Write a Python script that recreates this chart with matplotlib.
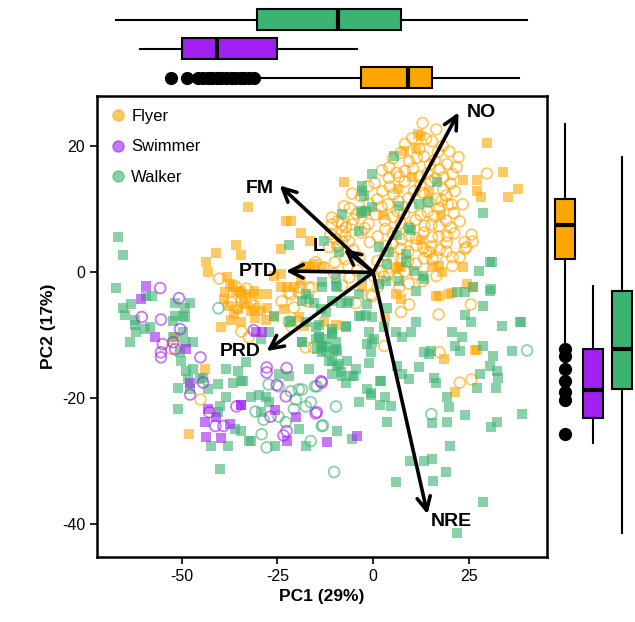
import matplotlib
matplotlib.use("Agg")
import matplotlib.pyplot as plt
from matplotlib.lines import Line2D

plt.rcParams['font.family'] = ['Liberation Sans', 'DejaVu Sans']
plt.rcParams['axes.unicode_minus'] = False

groups = ['Flyer', 'Swimmer', 'Walker']
colours = {'Flyer': '#FFA500', 'Swimmer': '#A020F0', 'Walker': '#3CB371'}

# PCA scores (squares = filled, circles = open)
flyer_sq = [
    (-32.8, 10.3), (-22.8, 8.1), (-21.5, 8.1), (-18.9, 6.3), (-16.5, 4.9), (-24.1, 3.7),
    (-40.9, 3.0), (-35.7, 4.3), (-34.6, 2.7), (-43.6, 1.6), (-43.0, 0.0), (-37.3, -1.9),
    (-38.6, -3.2), (-35.7, -3.2), (-33.1, -3.5), (-30.4, -3.5), (-37.8, -5.4), (-35.2, -5.9),
    (-32.0, -6.2), (-29.4, -6.2), (-37.0, -7.5), (-34.4, -7.9), (-39.6, -8.7), (-27.8, -3.5),
    (-26.0, -0.6), (-24.1, -0.3), (-17.6, 1.0), (-15.5, 1.3), (-23.4, -5.9), (-26.0, -7.1),
    (-28.1, -7.5), (-19.4, -7.1), (-18.1, -8.6), (-43.8, -15.4), (-51.7, -10.2), (-48.0, -25.7),
    (-18.1, 0.8), (-16.3, 0.8), (-24.1, -2.4), (-22.6, -2.4), (-20.7, -2.4), (-18.9, -1.4),
    (-36.5, -2.4), (-34.6, -3.0), (-31.2, -3.0), (-27.8, -5.6), (-31.2, -5.6),
    (-39.0, -4.3), (-36.2, -6.6), (-33.6, -5.0), (-30.8, -7.3), (-38.2, -0.8),
    (29.7, 20.6), (33.9, 15.9), (37.8, 13.3), (35.2, 11.9), (27.0, 12.9), (28.1, 11.9),
    (27.0, 14.6), (23.4, 14.6), (12.6, 21.7), (8.1, 19.2), (11.3, 19.8), (-7.6, 14.4),
    (20.7, -3.3), (23.4, 0.8), (17.3, 1.0), (15.5, 0.8), (6.8, 0.8), (-13.4, 0.8), (6.0, -3.5),
    (6.0, 0.5), (7.3, 0.8), (18.1, 0.0), (17.3, -3.8), (19.9, -3.5), (-2.9, -2.4), (7.3, -4.3),
    (16.5, -3.7), (26.0, -2.4), (24.4, -1.9), (27.0, -12.4), (21.3, -19.0), (18.4, -13.7),
    (26.5, -12.4), (-12.9, -7.9), (-9.7, -8.3), (3.1, -7.1), (11.6, 21.9),
    (10.2, 15.1), (14.6, 12.8), (6.4, 13.2), (2.5, 9.1), (12.5, 5.2), (17.8, 9.1),
]
flyer_ci = [
    (-40.2, -1.0), (-37.0, -4.8), (-34.4, -4.6), (-32.0, -4.6), (-34.4, -9.4), (-32.5, -10.3),
    (-23.9, -4.6), (-22.0, -3.2), (-19.4, -3.2), (-16.8, -2.4), (-16.0, -2.4), (-15.0, 1.6),
    (-22.0, -7.8), (-21.3, -8.6), (-19.4, -7.9), (-17.6, -11.9), (-15.5, -11.9), (-45.1, -20.2),
    (-52.8, -12.1), (-36.0, -2.2), (-34.6, -3.3), (-33.3, -4.0), (-21.5, -3.5), (-19.2, -2.4),
    (-17.3, -4.6), (-20.7, -5.6), (-35.5, -5.6), (-33.0, -2.6), (-31.0, -5.3),
    (25.5, -5.1), (17.1, -6.7), (7.3, -6.3), (-4.5, -4.9), (9.4, -5.1), (17.3, -12.7),
    (2.9, -11.7), (22.6, -17.5), (25.7, -17.0),
    (12.9, 23.7), (16.5, 22.7), (19.9, 19.2), (22.3, 18.3), (21.8, 16.7), (29.7, 15.7),
    (20.7, 15.6), (21.3, 12.9), (20.5, 10.8), (23.4, 10.8), (22.6, 8.1), (25.7, 6.0),
    (26.0, 4.9), (24.4, 4.0), (22.6, 2.4), (20.7, 2.4), (19.2, 3.3), (16.5, 2.4), (13.9, 3.3),
    (16.5, -0.6), (-0.5, -3.5), (4.2, 16.7), (6.8, 15.2), (-1.3, 13.7), (-5.5, 12.5),
    (-7.6, 10.5), (-10.8, 8.7), (-10.8, 7.6), (-8.1, 7.6), (-8.1, 6.5), (-5.5, 7.6),
    (-11.5, 4.0), (-8.1, 4.9), (-12.9, 0.8), (2.9, -0.6), (11.3, -0.3), (12.9, -1.4),
    (6.8, -2.4), (23.9, 4.8), (23.9, 3.7), (20.7, 1.0), (14.7, 3.2), (15.5, 2.1), (2.1, 0.2),
    (-0.3, -3.8), (-10.0, 1.6), (-6.6, 1.0), (-9.4, 4.1), (-6.3, 4.9),
    (8.3, 20.4), (12.1, 19.6), (15.4, 20.8), (18.2, 20.1),
    (5.2, 18.1), (9.4, 17.6), (13.3, 18.4), (16.1, 17.8), (19.3, 17.2),
    (2.3, 16.2), (6.1, 15.8), (10.4, 16.5), (14.2, 15.7), (17.4, 16.3), (20.2, 14.1),
    (0.4, 14.2), (4.3, 13.6), (8.2, 14.4), (12.3, 13.8), (15.1, 14.5), (18.3, 13.2),
    (-3.2, 12.1), (1.1, 11.6), (5.3, 12.4), (9.2, 11.8), (13.1, 12.6), (16.4, 11.7), (19.1, 12.2),
    (-6.1, 10.2), (-2.3, 9.6), (2.2, 10.4), (6.3, 9.7), (10.1, 10.3), (14.2, 9.6), (17.3, 10.2),
    (21.1, 9.4), (-9.2, 8.1), (-5.1, 8.4), (-1.2, 7.7), (3.1, 8.2), (7.2, 7.8), (11.1, 8.3),
    (15.2, 7.6), (19.1, 8.2), (-11.2, 6.1), (-7.3, 5.8), (-3.1, 6.3), (1.2, 5.7), (5.1, 6.2),
    (9.3, 5.8), (13.2, 6.3), (17.1, 5.7), (21.2, 6.2), (-9.1, 4.2), (-5.2, 3.6), (3.3, 4.2),
    (7.1, 3.8), (11.2, 4.3), (15.3, 4.1), (19.2, 4.7), (-7.2, 2.1), (1.1, 1.8), (5.2, 2.3),
    (9.1, 1.7), (13.3, 2.2), (-10.1, -0.2), (-4.2, 0.3), (4.1, -0.3), (8.2, 0.1),
    (-8.1, -2.1), (1.2, -2.3), (9.3, -1.8),
    (10.2, 21.3), (13.8, 21.2), (16.9, 19.1), (7.2, 19.0), (11.4, 18.2), (14.8, 17.1),
    (18.4, 15.1), (4.1, 15.0), (8.3, 16.1), (12.2, 15.2), (16.2, 14.9), (19.5, 10.8),
    (2.4, 12.9), (6.6, 11.3), (10.7, 12.9), (14.6, 11.2), (17.9, 11.4), (-1.1, 10.9),
    (3.9, 10.8), (8.1, 9.3), (12.4, 9.1), (15.8, 8.9), (-4.3, 9.3), (0.7, 9.2), (5.2, 8.8),
    (9.3, 7.2), (13.4, 7.4), (17.2, 7.3), (20.3, 7.1), (-7.1, 7.1), (-2.2, 7.0), (3.2, 6.9),
    (7.4, 5.2), (11.2, 5.4), (15.4, 5.6), (19.3, 5.8), (-9.8, 5.3), (-0.9, 4.8), (5.1, 4.5),
    (9.2, 3.3), (13.1, 3.9), (17.3, 3.6), (-3.6, 2.4), (3.2, 2.8), (7.3, 2.1), (11.2, 1.4),
    (-6.2, -0.8), (6.3, -0.9), (0.2, -0.6),
]
swimmer_sq = [
    (-59.3, -2.2), (-60.6, -4.3), (-57.0, -10.3), (-48.8, -12.2), (-47.8, -17.5), (-43.0, -21.7),
    (-43.8, -23.8), (-40.9, -23.0), (-37.3, -24.1), (-34.6, -21.0), (-43.6, -26.2), (-39.6, -26.3),
    (-29.1, -9.5), (-30.7, -9.4), (-25.5, -21.9), (-34.4, -21.0), (-20.2, -22.9), (-12.1, -27.0),
    (-22.6, -26.8), (-4.2, -26.0),
]
swimmer_ci = [
    (-55.6, -2.5), (-50.7, -4.1), (-60.4, -7.1), (-55.4, -7.5), (-50.4, -9.0), (-54.9, -11.4),
    (-55.4, -12.7), (-55.4, -13.5), (-52.2, -11.1), (-51.7, -12.2), (-45.1, -13.5), (-44.4, -17.5),
    (-47.8, -19.4), (-42.8, -22.2), (-41.2, -24.4), (-39.1, -24.4), (-35.7, -21.3), (-31.2, -9.2),
    (-27.8, -15.1), (-27.8, -15.9), (-22.6, -15.2), (-25.2, -17.9), (-13.4, -17.5), (-22.8, -19.7),
    (-26.8, -22.9), (-15.0, -22.4), (-22.6, -25.2), (-23.4, -25.9), (-13.6, -17.3), (-14.7, -22.2),
]
walker_sq = [
    (-66.7, 5.6), (-65.4, 2.7), (-22.0, 4.3), (-67.2, -2.5), (-59.3, -3.7), (-57.7, -3.7),
    (-51.7, -4.8), (-47.8, -4.8), (-49.1, -5.6), (-65.4, -5.6), (-64.8, -6.7), (-62.2, -7.5),
    (-51.7, -7.0), (-49.6, -7.0), (-63.3, -5.1), (-62.2, -8.3), (-61.9, -9.4), (-63.5, -11.1),
    (-59.6, -9.0), (-58.3, -8.7), (-52.2, -7.8), (-49.1, -7.1), (-49.6, -9.5), (-52.2, -10.2),
    (-49.1, -11.0), (-47.0, -11.0), (-50.4, -12.7), (-50.1, -14.1), (-48.8, -15.7), (-47.0, -15.4),
    (-48.3, -17.0), (-45.1, -17.0), (-50.9, -18.3), (-47.8, -18.6), (-43.0, -18.6), (-40.4, -17.8),
    (-44.4, -16.7), (-39.9, -21.3), (-38.3, -19.8), (-36.5, -17.5), (-33.9, -17.3), (-38.3, -15.4),
    (-35.2, -15.7), (-33.1, -14.3), (-34.6, -25.2), (-32.0, -26.8), (-37.8, -27.6), (-42.3, -27.5),
    (-39.9, -31.3), (-50.9, -21.7), (-29.4, -10.6), (-17.6, -3.5), (-18.6, -4.6), (-26.0, -7.0),
    (-21.5, -7.8), (-14.2, -8.3), (-12.3, -6.3), (-15.0, -10.6), (-12.3, -10.6),
    (-29.9, -19.4), (-28.1, -19.8), (-29.4, -22.1), (-27.3, -20.6), (-24.7, -16.2), (-22.0, -16.5),
    (-34.4, -17.3), (-32.0, -19.8), (-16.8, -15.4), (-10.8, -16.2), (-14.7, -12.2), (-12.3, -11.9),
    (-10.2, -12.5), (-19.4, -24.9), (-17.6, -27.6), (-25.5, -27.6), (-32.5, -26.8), (-40.4, -22.2),
    (-36.0, -24.9),
    (28.6, -5.4), (38.6, -7.9), (33.6, -8.6), (25.5, -7.9), (23.9, -6.7), (20.5, -9.4),
    (23.1, -10.2), (21.3, -11.7), (22.6, -12.5), (36.2, -12.5), (28.6, -11.7), (31.2, -13.3),
    (30.4, -14.8), (32.3, -15.7), (32.5, -16.7), (27.8, -16.2), (27.0, -18.3), (32.0, -18.4),
    (19.4, -19.8), (19.9, -21.4), (24.1, -22.7), (19.4, -23.7), (32.3, -23.7), (30.7, -24.6),
    (38.8, -22.5), (20.2, -27.6), (15.5, -24.0), (15.5, -29.7), (13.4, -30.0), (9.7, -30.0),
    (18.9, -31.7), (15.7, -33.2), (6.0, -33.3), (28.6, -36.5), (22.0, -41.4), (3.7, -23.7),
    (4.7, -21.3), (1.8, -21.0), (3.1, -19.8), (-0.5, -19.2), (-3.7, -20.6), (1.8, -17.3),
    (-4.5, -15.4), (-5.5, -16.5), (-7.1, -17.5), (-8.4, -15.9), (-9.4, -14.8), (-1.0, -14.4),
    (6.3, -14.9), (7.6, -16.2), (9.4, -17.0), (12.1, -15.1), (16.0, -16.7), (16.5, -17.5),
    (14.7, -13.0), (13.4, -12.7), (-1.0, -9.5), (-0.3, -11.1), (2.9, -8.7), (6.0, -9.4),
    (7.6, -10.2), (10.0, -9.4), (11.3, -7.9), (-10.8, -9.5), (-9.4, -12.5), (-13.4, -12.7),
    (-11.5, -14.1), (-1.8, -6.7), (-3.1, -7.0), (-0.3, -7.1), (-7.1, -8.6), (15.2, -12.5),
    (-9.4, -25.2), (-5.5, -26.5), (30.4, -3.0), (38.3, -7.9),
    (5.5, 18.4), (-0.3, 15.6), (-2.9, 13.7), (-3.1, 9.7), (-1.8, 9.7), (-0.3, 10.3), (6.8, 10.5),
    (9.4, 7.1), (12.1, 10.8), (14.2, 11.1), (16.8, 14.4), (6.3, 6.0), (4.2, 3.3), (8.7, 2.9),
    (-3.7, 6.5), (-12.9, 4.9), (-8.9, 3.3), (28.6, 9.4), (30.4, 1.7), (27.6, 0.2), (30.7, -2.7),
    (23.9, -3.2), (12.9, -0.6), (3.7, 1.3), (6.8, -1.4), (11.3, -3.0), (1.6, -1.9), (-2.9, -0.8),
    (-3.7, -3.5), (-1.6, -5.1), (-6.8, -4.8), (-10.8, -4.6), (-13.4, -2.4), (3.7, -5.6),
    (-8.1, 9.2), (-2.9, 9.5), (1.6, 4.1), (10.0, 6.8), (8.7, 1.6), (10.8, 0.2), (13.4, -1.1),
    (-9.7, -1.1), (-9.4, -2.4), (3.4, -1.4), (31.0, 1.6), (22.0, -3.2), (26.0, -2.4),
    (-2.9, 12.9), (-2.4, 12.1),
    (-13.4, -1.6), (-9.7, -2.2), (-6.3, -4.6), (-8.4, -4.8), (-3.7, -7.0), (-7.1, -8.7),
    (-10.8, -9.0), (-10.8, -9.8), (-14.2, -10.3), (-13.6, -11.7), (-18.6, -11.1), (-15.0, -8.7),
    (-17.6, -7.9), (-9.7, -11.1), (-9.7, -12.2), (-12.3, -12.5), (-10.8, -14.1), (-8.9, -14.6),
    (-6.8, -14.1), (-8.1, -16.5), (-5.0, -16.5), (-0.5, -12.7), (-1.6, -11.4), (0.3, -10.6),
    (-1.6, -18.6), (2.1, -17.3), (-0.5, -19.4), (-16.8, -4.3), (-15.5, -4.8), (-13.6, -5.9),
    (-22.0, -7.9), (-14.2, -10.2), (-13.4, -11.7), (-18.6, -11.0), (-27.3, -9.4),
]
walker_ci = [
    (-40.4, -5.7), (-27.3, -17.8), (-24.7, -18.1), (-21.5, -18.9), (-19.4, -18.6), (-20.2, -20.2),
    (-20.7, -21.7), (-17.6, -21.3), (-16.3, -20.6), (-15.2, -18.1), (-30.7, -22.1), (-28.6, -23.4),
    (-24.7, -22.9), (-29.1, -25.7), (-27.8, -27.8), (-16.3, -26.8), (-13.4, -24.4), (-9.7, -21.3),
    (-22.8, -23.8), (40.2, -12.4), (-13.1, -24.3), (-10.2, -31.7), (15.2, -22.5), (-14.7, -18.1),
    (-18.6, -18.6),
]

# loadings (arrow tips) and labels
load_names = ['NO', 'FM', 'L', 'PTD', 'PRD', 'NRE']
load_pc1 = [22.3, -24.4, -7.6, -22.8, -27.8, 14.2]
load_pc2 = [25.4, 13.8, 3.7, 0.2, -12.5, -38.4]

# marginal boxplot statistics: (whislo, q1, med, q3, whishi, fliers)
box_pc1 = {
    'Walker': (-67.2, -30.4, -9.2, 7.3, 40.2, []),
    'Swimmer': (-60.9, -49.9, -40.7, -25.2, -4.2, []),
    'Flyer': (-30.2, -3.1, 9.2, 15.5, 38.1,
              [-52.8, -48.5, -45.6, -44.4, -43.2, -42.0, -40.8, -39.6, -38.4, -37.2, -36.0,
               -34.8, -33.6, -32.4, -31.2]),
}
box_pc2 = {
    'Flyer': (-11.7, 2.1, 7.5, 11.7, 23.5, [-12.2, -13.3, -15.4, -17.3, -19.0, -20.2, -25.7]),
    'Swimmer': (-27.1, -23.2, -18.7, -12.1, -2.2, []),
    'Walker': (-41.4, -18.6, -12.1, -3.0, 18.3, []),
}

fig = plt.figure(figsize=(6.35, 6.22), dpi=100)
ax = fig.add_axes([97 / 635, 65 / 622, 450 / 635, 461 / 622])
axt = fig.add_axes([97 / 635, 530 / 622, 450 / 635, 87 / 622])
axr = fig.add_axes([549 / 635, 65 / 622, 86 / 635, 461 / 622])

alpha = 0.6
for g, sq, ci in [('Flyer', flyer_sq, flyer_ci), ('Walker', walker_sq, walker_ci),
                  ('Swimmer', swimmer_sq, swimmer_ci)]:
    c = colours[g]
    ax.scatter([p[0] for p in ci], [p[1] for p in ci], s=60, marker='o', facecolors='none',
               edgecolors=c, linewidths=1.3, alpha=alpha, zorder=2)
    ax.scatter([p[0] for p in sq], [p[1] for p in sq], s=50, marker='s', color=c,
               linewidths=0, alpha=alpha, zorder=2)

label_off = {'NO': (6, 0, 'left'), 'FM': (-4, -2, 'right'), 'L': (-14, 2, 'right'),
             'PTD': (-6, 0, 'right'), 'PRD': (-4, 0, 'right'), 'NRE': (2, -5, 'left')}
for name, x, y in zip(load_names, load_pc1, load_pc2):
    ax.annotate('', xy=(x, y), xytext=(0, 0),
                arrowprops=dict(arrowstyle='->', lw=2.6, color='black', mutation_scale=24,
                                shrinkA=0, shrinkB=0), zorder=3)
    dx, dy, ha = label_off[name]
    ax.annotate(name, xy=(x, y), xytext=(dx, dy), textcoords='offset points', ha=ha,
                va='center', fontsize=14, fontweight='bold', zorder=4)

ax.set_xlim(-72.1, 45.4)
ax.set_ylim(-45.2, 28.0)
ax.set_xticks([-50, -25, 0, 25])
ax.set_yticks([-40, -20, 0, 20])
ax.tick_params(labelsize=11.5, length=5, width=1.2, direction='out')
for s in ax.spines.values():
    s.set_linewidth(1.8)
ax.set_xlabel('PC1 (29%)', fontsize=12.5, fontweight='bold', labelpad=4)
ax.set_ylabel('PC2 (17%)', fontsize=12.5, fontweight='bold', labelpad=4)

handles = [Line2D([], [], marker='o', ls='none', color=colours[g], alpha=alpha, markersize=8)
           for g in groups]
ax.legend(handles, groups, loc='upper left', frameon=False, fontsize=12, labelspacing=0.95,
          handletextpad=0.3, handlelength=1.0, borderaxespad=0.35, bbox_to_anchor=(0.0, 1.0))


def stats_list(d, order):
    out = []
    for g in order:
        lo, q1, med, q3, hi, fl = d[g]
        out.append(dict(whislo=lo, q1=q1, med=med, q3=q3, whishi=hi, fliers=fl, label=g))
    return out


def draw_box(a, stats, order, vert):
    b = a.bxp(stats, positions=[1, 2, 3], widths=0.7, vert=vert, patch_artist=True,
              showcaps=False,
              boxprops=dict(linewidth=1.5, edgecolor='black'),
              whiskerprops=dict(linewidth=1.5),
              medianprops=dict(color='black', linewidth=3),
              flierprops=dict(marker='o', markerfacecolor='black', markeredgecolor='black',
                              markersize=8.5))
    for patch, g in zip(b['boxes'], order):
        patch.set_facecolor(colours[g])


top_order = ['Flyer', 'Swimmer', 'Walker']
draw_box(axt, stats_list(box_pc1, top_order), top_order, vert=False)
axt.set_xlim(ax.get_xlim())
axt.set_ylim(0.5, 3.5)
axt.axis('off')

right_order = ['Flyer', 'Swimmer', 'Walker']
draw_box(axr, stats_list(box_pc2, right_order), right_order, vert=True)
axr.set_ylim(ax.get_ylim())
axr.set_xlim(0.45, 3.45)
axr.axis('off')

fig.savefig('out.png', dpi=100)
